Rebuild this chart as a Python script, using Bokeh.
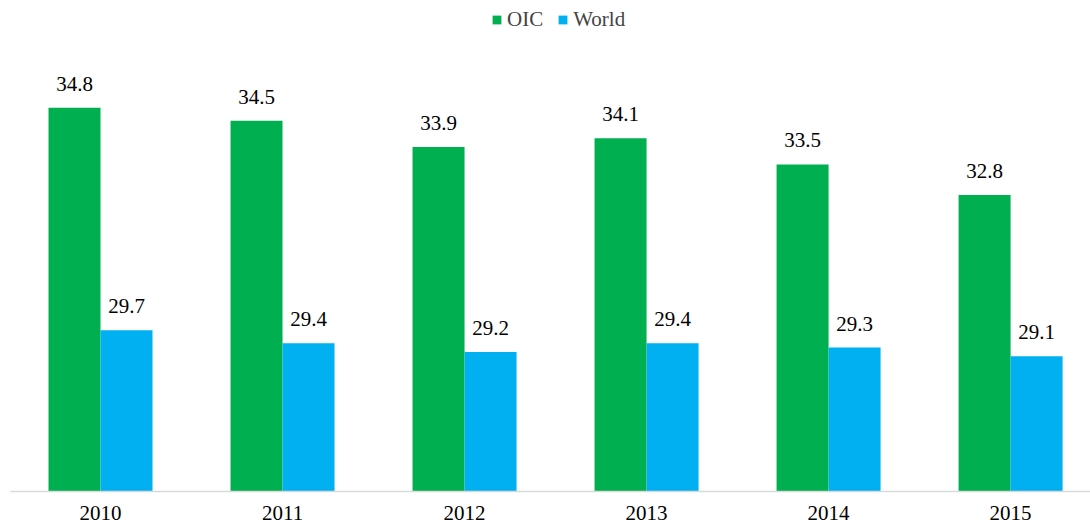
from bokeh.plotting import figure
from bokeh.models import FixedTicker, Range1d, ColumnDataSource
from bokeh.embed import file_html
from bokeh.resources import INLINE
from bokeh.core.properties import value

years = ["2010", "2011", "2012", "2013", "2014", "2015"]
oic = [34.8, 34.5, 33.9, 34.1, 33.5, 32.8]
world = [29.7, 29.4, 29.2, 29.4, 29.3, 29.1]

GREEN = "#00B050"
BLUE = "#00B0F0"
FONT = "Liberation Serif"

idx = list(range(len(years)))
bw = 0.2857
off = bw / 2

src_oic = ColumnDataSource(dict(x=[i - off for i in idx], top=oic, lab=[f"{v:.1f}" for v in oic]))
src_w = ColumnDataSource(dict(x=[i + off for i in idx], top=world, lab=[f"{v:.1f}" for v in world]))

p = figure(width=1090, height=525, output_backend="svg", toolbar_location=None,
           x_range=Range1d(-0.4945, 5.439), y_range=Range1d(26, 37.26),
           min_border_left=10, min_border_right=0, min_border_top=0, min_border_bottom=34)
p.outline_line_color = None
p.xgrid.visible = False
p.ygrid.visible = False
p.yaxis.visible = False

p.vbar(x="x", top="top", bottom=26, width=bw, source=src_oic, fill_color=GREEN, line_color=None, legend_label="OIC")
p.vbar(x="x", top="top", bottom=26, width=bw, source=src_w, fill_color=BLUE, line_color=None, legend_label="World")

for s in (src_oic, src_w):
    p.text(x="x", y="top", text="lab", source=s, text_align="center", text_baseline="bottom",
           y_offset=-17, text_font=value(FONT), text_font_size="21px", text_color="black")

xa = p.xaxis[0]
xa.ticker = FixedTicker(ticks=idx)
xa.major_label_overrides = {i: y for i, y in zip(idx, years)}
xa.major_tick_line_color = None
xa.minor_tick_line_color = None
xa.major_tick_out = 0
xa.major_tick_in = 0
xa.major_label_standoff = 14
xa.axis_line_color = "#d9d9d9"
xa.axis_line_width = 1.5
xa.major_label_text_font = FONT
xa.major_label_text_font_size = "21px"
xa.major_label_text_color = "black"

lg = p.legend[0]
lg.orientation = "horizontal"
lg.location = (481, 459)
lg.padding = 0
lg.margin = 0
lg.spacing = 14
lg.glyph_width = 11
lg.glyph_height = 11
lg.label_standoff = 5
lg.label_text_font = FONT
lg.label_text_font_size = "21px"
lg.border_line_color = None
lg.background_fill_alpha = 0

open("out.html", "w").write(file_html(p, INLINE))
